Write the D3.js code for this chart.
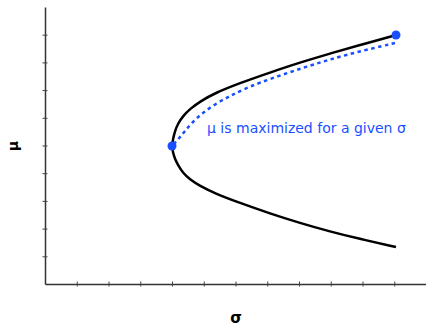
<!DOCTYPE html>
<html><head><meta charset="utf-8">
<script src="https://cdn.jsdelivr.net/npm/d3@7"></script>
<style>body{margin:0;background:#fff}svg{display:block}</style>
</head><body>
<script>
// Data (σ, μ)
const xTicks = [1,2,3,4,5,6,7,8,9,10,11];
const yTicks = [1,2,3,4,5,6,7,8,9];
const frontierSigma = [11.055, 9.921, 8.976, 8.031, 7.087, 6.142, 5.354, 4.882, 4.567, 4.346, 4.189, 4.094, 4.031, 4.000,
                       4.031, 4.094, 4.189, 4.346, 4.567, 4.882, 5.354, 6.142, 7.087, 8.031, 8.976, 9.921, 11.055];
const frontierMu    = [8.989, 8.628, 8.321, 7.996, 7.635, 7.256, 6.895, 6.588, 6.318, 6.065, 5.794, 5.523, 5.235, 4.982,
                       4.729, 4.513, 4.296, 4.007, 3.773, 3.538, 3.267, 2.924, 2.545, 2.202, 1.895, 1.625, 1.336];
const dottedSigma = [11.024, 9.701, 8.976, 8.252, 7.496, 6.772, 6.236, 5.827, 5.417, 4.976, 4.661, 4.409, 4.220, 4.000];
const dottedMu    = [8.700, 8.339, 8.105, 7.852, 7.563, 7.274, 7.022, 6.787, 6.534, 6.191, 5.866, 5.523, 5.253, 4.982];
const dotSigma = [4.000, 11.055];
const dotMu    = [4.982, 8.989];
const annotation = "μ is maximized for a given σ";
const xLabel = "σ", yLabel = "μ";

const W = 426, H = 327;
const blue = "#1a4fff";
const svg = d3.select("body").append("svg").attr("width", W).attr("height", H);
const x = d3.scaleLinear().domain([0, 12]).range([45, 426]);
const y = d3.scaleLinear().domain([0, 10]).range([284, 7]);

// axes
const gx = svg.append("g").attr("transform", `translate(0,${y(0)})`)
  .call(d3.axisBottom(x).tickValues(xTicks).tickFormat("").tickSizeOuter(0).tickSizeInner(3));
const gy = svg.append("g").attr("transform", `translate(${x(0)},0)`)
  .call(d3.axisLeft(y).tickValues(yTicks).tickFormat("").tickSizeOuter(0).tickSizeInner(3));
gx.select(".domain").attr("stroke", "#333").attr("stroke-width", 1.5);
gy.select(".domain").attr("stroke", "#333").attr("stroke-width", 1.5);
gx.selectAll(".tick line").attr("y1", -2.5).attr("y2", 2.5).attr("stroke", "#444");
gy.selectAll(".tick line").attr("x1", -2.5).attr("x2", 2.5).attr("stroke", "#444");

// curves
const frontier = frontierSigma.map((s, i) => [s, frontierMu[i]]);
const dotted = dottedSigma.map((s, i) => [s, dottedMu[i]]);
const line = d3.line().x(d => x(d[0])).y(d => y(d[1])).curve(d3.curveBasis);

svg.append("path").attr("d", line(frontier)).attr("fill", "none")
  .attr("stroke", "#000").attr("stroke-width", 2.5);
svg.append("path").attr("d", line(dotted)).attr("fill", "none")
  .attr("stroke", blue).attr("stroke-width", 2.5).attr("stroke-dasharray", "3.5,3.5");

svg.selectAll("circle.pt").data(dotSigma.map((s, i) => [s, dotMu[i]])).join("circle")
  .attr("class", "pt").attr("cx", d => x(d[0])).attr("cy", d => y(d[1])).attr("r", 4.5)
  .attr("fill", blue);

svg.append("text").attr("x", 207).attr("y", 133).text(annotation)
  .attr("fill", blue).attr("font-family", "DejaVu Sans, Verdana, sans-serif").attr("font-size", 14);

svg.append("text").attr("x", 236).attr("y", 323).attr("text-anchor", "middle").text(xLabel)
  .attr("font-family", "DejaVu Sans, sans-serif").attr("font-size", 15).attr("font-weight", "bold");
svg.append("text").attr("transform", "translate(18,146) rotate(-90)").attr("text-anchor", "middle").text(yLabel)
  .attr("font-family", "DejaVu Sans, sans-serif").attr("font-size", 14).attr("font-weight", "bold");
</script>
</body></html>
